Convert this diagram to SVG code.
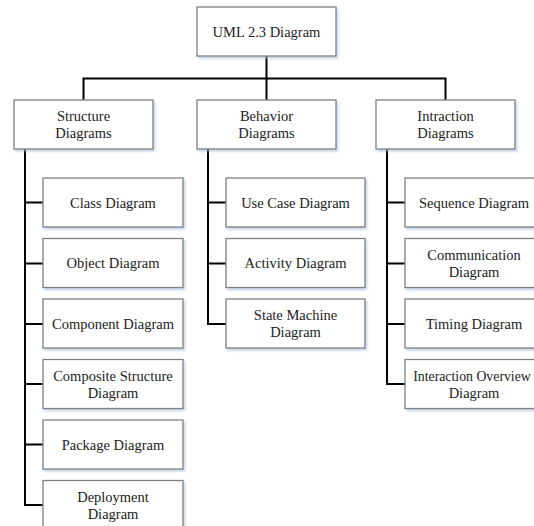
<svg xmlns="http://www.w3.org/2000/svg" width="534" height="526" viewBox="0 0 534 526">
<defs>
<filter id="sh" x="-10%" y="-10%" width="130%" height="140%">
<feDropShadow dx="1.5" dy="2" stdDeviation="1.2" flood-color="#9fb6d6" flood-opacity="0.6"/>
</filter>
<style>
.box{fill:#fff;stroke:#808080;stroke-width:1.3;filter:url(#sh)}
.t{font-family:"Liberation Serif","Times New Roman","DejaVu Serif",serif;font-size:14.5px;fill:#222;text-anchor:middle}
.ln{stroke:#000;stroke-width:2;fill:none}
</style>
</defs>
<rect width="534" height="526" fill="#fff"/>
<g id="connectors">
<path class="ln" d="M266.5 56V78.5M83.5 78.5H445.5M83.5 77.5V100M266.5 78.5V100M445.5 77.5V100"/>
<path class="ln" d="M25 149V505M24 202.5H43M24 263.5H43M24 324H43M24 384H43M24 444.5H43M24 505H43"/>
<path class="ln" d="M208 149V324M207 202.5H226M207 263.5H226M207 324H226"/>
<path class="ln" d="M387 149V384M386 202.5H405M386 263.5H405M386 324H405M386 384H405"/>
</g>
<g id="uml"><rect class="box" x="197" y="7" width="139" height="49"/><text class="t" x="266.5" y="36.5">UML 2.3 Diagram</text></g>
<g id="structure"><rect class="box" x="14" y="100" width="139" height="49"/><text class="t" x="83.5" y="121">Structure</text><text class="t" x="83.5" y="138">Diagrams</text></g>
<g id="behavior"><rect class="box" x="197" y="100" width="139" height="49"/><text class="t" x="266.5" y="121">Behavior</text><text class="t" x="266.5" y="138">Diagrams</text></g>
<g id="intraction"><rect class="box" x="376" y="100" width="139" height="49"/><text class="t" x="445.5" y="121">Intraction</text><text class="t" x="445.5" y="138">Diagrams</text></g>
<g id="class"><rect class="box" x="43" y="178" width="140" height="49"/><text class="t" x="113" y="207.5">Class Diagram</text></g>
<g id="object"><rect class="box" x="43" y="238.5" width="140" height="49"/><text class="t" x="113" y="268">Object Diagram</text></g>
<g id="component"><rect class="box" x="43" y="299" width="140" height="49"/><text class="t" x="113" y="328.5">Component Diagram</text></g>
<g id="composite"><rect class="box" x="43" y="359.5" width="140" height="49"/><text class="t" x="113" y="380.5">Composite Structure</text><text class="t" x="113" y="397.5">Diagram</text></g>
<g id="package"><rect class="box" x="43" y="420" width="140" height="49"/><text class="t" x="113" y="449.5">Package Diagram</text></g>
<g id="deployment"><rect class="box" x="43" y="480.5" width="140" height="49"/><text class="t" x="113" y="501.5">Deployment</text><text class="t" x="113" y="518.5">Diagram</text></g>
<g id="usecase"><rect class="box" x="226" y="178" width="139" height="49"/><text class="t" x="295.5" y="207.5">Use Case Diagram</text></g>
<g id="activity"><rect class="box" x="226" y="238.5" width="139" height="49"/><text class="t" x="295.5" y="268">Activity Diagram</text></g>
<g id="statemachine"><rect class="box" x="226" y="299" width="139" height="49"/><text class="t" x="295.5" y="320">State Machine</text><text class="t" x="295.5" y="337">Diagram</text></g>
<g id="sequence"><rect class="box" x="405" y="178" width="140" height="49"/><text class="t" x="474" y="207.5">Sequence Diagram</text></g>
<g id="communication"><rect class="box" x="405" y="238.5" width="140" height="49"/><text class="t" x="474" y="259.5">Communication</text><text class="t" x="474" y="276.5">Diagram</text></g>
<g id="timing"><rect class="box" x="405" y="299" width="140" height="49"/><text class="t" x="474" y="328.5">Timing Diagram</text></g>
<g id="overview"><rect class="box" x="405" y="359.5" width="140" height="49"/><text class="t" x="472" y="380.5" style="font-size:13.8px">Interaction Overview</text><text class="t" x="474" y="397.5">Diagram</text></g>
</svg>
